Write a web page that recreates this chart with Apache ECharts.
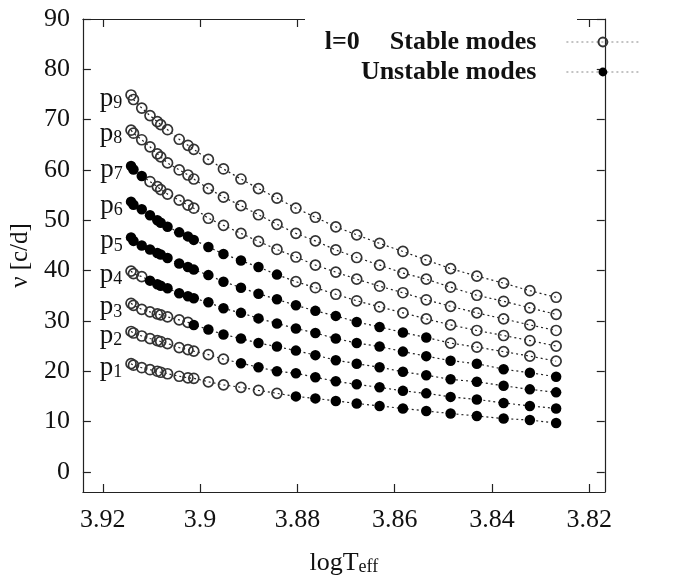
<!DOCTYPE html>
<html>
<head>
<meta charset="utf-8">
<script src="https://cdn.jsdelivr.net/npm/echarts@6/dist/echarts.min.js"></script>
<style>
html,body{margin:0;padding:0;background:#fff;}
#chart{width:677px;height:588px;}
</style>
</head>
<body>
<div id="chart"></div>
<script>
// ---- data ----
const logTeff = [3.9142, 3.9137, 3.9120, 3.9103, 3.9088, 3.9081, 3.9067, 3.9043, 3.9025, 3.9013,
                 3.8983, 3.8952, 3.8916, 3.8880, 3.8842, 3.8803, 3.8763, 3.8721, 3.8678, 3.8631,
                 3.8583, 3.8535, 3.8485, 3.8431, 3.8376, 3.8322, 3.8268];
const p1 = [21.5, 21.2, 20.7, 20.3, 20.0, 19.8, 19.5, 19.0, 18.7, 18.6, 17.9, 17.3, 16.8, 16.2, 15.6, 15.0, 14.6, 14.1, 13.6, 13.1, 12.6, 12.1, 11.6, 11.1, 10.6, 10.3, 9.7];
const p2 = [27.9, 27.6, 27.0, 26.5, 26.1, 25.9, 25.5, 24.7, 24.3, 24.0, 23.3, 22.4, 21.6, 20.8, 20.0, 19.6, 18.8, 18.0, 17.4, 16.8, 16.1, 15.6, 14.9, 14.4, 13.7, 13.1, 12.6];
const p3 = [33.5, 33.1, 32.3, 31.8, 31.4, 31.2, 30.8, 30.2, 29.7, 29.2, 28.3, 27.3, 26.5, 25.6, 24.9, 24.1, 23.2, 22.2, 21.5, 20.8, 19.9, 19.2, 18.4, 17.9, 17.1, 16.4, 15.8];
const p4 = [39.9, 39.4, 38.8, 38.0, 37.3, 37.0, 36.5, 35.5, 34.9, 34.5, 33.7, 32.5, 31.6, 30.5, 29.5, 28.5, 27.6, 26.5, 25.6, 24.9, 23.9, 23.0, 22.1, 21.5, 20.4, 19.7, 18.9];
const p5 = [46.6, 45.9, 45.0, 44.2, 43.5, 43.2, 42.5, 41.4, 40.7, 40.2, 39.1, 37.8, 36.6, 35.4, 34.3, 33.1, 32.0, 31.0, 29.8, 28.8, 27.7, 26.7, 25.6, 24.8, 23.9, 23.0, 22.0];
const p6 = [53.7, 53.1, 52.2, 51.0, 50.0, 49.5, 48.7, 47.6, 46.8, 46.1, 44.7, 43.3, 42.0, 40.7, 39.2, 37.8, 36.6, 35.3, 34.0, 32.8, 31.6, 30.4, 29.2, 28.1, 27.1, 26.1, 25.0];
const p7 = [60.8, 60.1, 58.8, 57.7, 56.7, 56.1, 55.2, 54.0, 53.0, 52.4, 50.4, 49.0, 47.4, 45.8, 44.2, 42.7, 41.1, 39.7, 38.3, 36.9, 35.6, 34.2, 32.9, 31.6, 30.4, 29.2, 28.1];
const p8 = [67.9, 67.3, 66.0, 64.6, 63.2, 62.6, 61.4, 60.0, 59.0, 58.2, 56.3, 54.6, 52.9, 51.1, 49.2, 47.4, 45.9, 44.1, 42.6, 41.1, 39.5, 38.3, 36.7, 35.1, 33.9, 32.6, 31.3];
const p9 = [74.9, 74.0, 72.3, 70.8, 69.6, 69.0, 68.0, 66.1, 64.9, 64.1, 62.1, 60.2, 58.2, 56.3, 54.4, 52.4, 50.6, 48.7, 47.1, 45.4, 43.8, 42.1, 40.4, 38.9, 37.5, 36.0, 34.7];
const modeNames = ['1', '2', '3', '4', '5', '6', '7', '8', '9'];
// index range (inclusive) of unstable models per mode; null = none
const unstableFrom = [15, 12, 9, 3, 0, 0, 0, null, null];
const unstableTo   = [26, 26, 26, 26, 21, 14, 2, null, null];
const xTicks = [3.82, 3.84, 3.86, 3.88, 3.90, 3.92];
const yTicks = [0, 10, 20, 30, 40, 50, 60, 70, 80, 90];
const seriesLabels = ['Stable modes', 'Unstable modes'];
const keyTitle = 'l=0';

// ---- build ----
const modes = [p1, p2, p3, p4, p5, p6, p7, p8, p9];
const SERIF = 'Liberation Serif';
const INK = '#111';
const AX = '#222';

const lineSeries = [];
const stableData = [];
const unstableData = [];
modes.forEach((vals, k) => {
  lineSeries.push({
    type: 'line',
    name: 'p' + modeNames[k],
    data: vals.map((v, i) => [logTeff[i], v]),
    showSymbol: false,
    lineStyle: { color: '#222', width: 1.2, type: [2, 3] },
    silent: true,
    z: 2
  });
  vals.forEach((v, i) => {
    const item = { value: [logTeff[i], v] };
    if (i === 0) {
      item.label = {
        show: true,
        position: 'left',
        distance: 3,
        offset: [0, 4],
        formatter: '{p|p}{s|' + modeNames[k] + '}',
        rich: {
          p: { fontFamily: SERIF, fontSize: 27, color: INK },
          s: { fontFamily: SERIF, fontSize: 18, color: INK, verticalAlign: 'bottom' }
        }
      };
    }
    const uf = unstableFrom[k], ut = unstableTo[k];
    if (uf !== null && i >= uf && i <= ut) unstableData.push(item);
    else stableData.push(item);
  });
});

const symbolSeries = [
  {
    type: 'line', name: seriesLabels[0], data: stableData,
    symbol: 'circle', symbolSize: 10, showSymbol: true,
    lineStyle: { opacity: 0, type: [2, 3], color: '#888' },
    itemStyle: { color: 'rgba(255,255,255,0)', borderColor: '#333', borderWidth: 1.7 },
    silent: true, z: 3
  },
  {
    type: 'line', name: seriesLabels[1], data: unstableData,
    symbol: 'circle', symbolSize: 10.5, showSymbol: true,
    lineStyle: { opacity: 0, type: [2, 3], color: '#888' },
    itemStyle: { color: '#000', borderColor: '#000', borderWidth: 0 },
    silent: true, z: 3
  }
];

const xRange = { min: 3.8168, max: 3.9241 };
const yRange = { min: -4, max: 90 };
const tickStyle = { color: AX, width: 1.2 };
const fmtX = v => String(parseFloat(v.toFixed(2)));

const option = {
  animation: false,
  backgroundColor: '#fff',
  textStyle: { fontFamily: SERIF, color: INK },
  grid: { left: 75, right: 6, top: 19, bottom: 96, containLabel: false },
  xAxis: [
    {
      type: 'value', position: 'bottom', inverse: true, min: xRange.min, max: xRange.max,
      axisLine: { show: true, onZero: false, lineStyle: tickStyle },
      axisTick: { show: true, inside: true, length: 8, customValues: xTicks, lineStyle: tickStyle },
      axisLabel: { show: true, customValues: xTicks, formatter: fmtX, margin: 15,
                   fontFamily: SERIF, fontSize: 26, color: INK },
      splitLine: { show: false },
      name: '{a|logT}{b|eff}', nameLocation: 'middle', nameGap: 58,
      nameTextStyle: { fontFamily: SERIF, rich: {
        a: { fontFamily: SERIF, fontSize: 26, color: INK },
        b: { fontFamily: SERIF, fontSize: 18, color: INK, verticalAlign: 'bottom' }
      } }
    },
    {
      type: 'value', position: 'top', inverse: true, min: xRange.min, max: xRange.max,
      axisLine: { show: true, onZero: false, lineStyle: tickStyle },
      axisTick: { show: true, inside: true, length: 8, customValues: xTicks, lineStyle: tickStyle },
      axisLabel: { show: false }, splitLine: { show: false }
    }
  ],
  yAxis: [
    {
      type: 'value', position: 'left', min: yRange.min, max: yRange.max,
      axisLine: { show: true, onZero: false, lineStyle: tickStyle },
      axisTick: { show: true, inside: true, length: 8, customValues: yTicks, lineStyle: tickStyle },
      axisLabel: { show: true, customValues: yTicks, margin: 13, fontFamily: SERIF, fontSize: 26, color: INK },
      splitLine: { show: false },
      name: 'ν [c/d]', nameLocation: 'middle', nameGap: 42,
      nameTextStyle: { fontFamily: SERIF, fontSize: 25, color: INK }
    },
    {
      type: 'value', position: 'right', min: yRange.min, max: yRange.max,
      axisLine: { show: true, onZero: false, lineStyle: tickStyle },
      axisTick: { show: true, inside: true, length: 8, customValues: yTicks, lineStyle: tickStyle },
      axisLabel: { show: false }, splitLine: { show: false }
    }
  ],
  legend: {
    data: seriesLabels,
    orient: 'vertical', align: 'right', right: 37, top: 29,
    itemWidth: 73, itemHeight: 11, itemGap: 4, padding: 0,
    selectedMode: false, z: 10,
    formatter: n => n === seriesLabels[0] ? '{a|' + keyTitle + '}{b|' + n + '}' : '{b|' + n + '}',
    textStyle: {
      fontFamily: SERIF, fontSize: 26, fontWeight: 'bold', color: INK, lineHeight: 24,
      rich: {
        a: { fontFamily: SERIF, fontSize: 26, fontWeight: 'bold', color: INK, padding: [0, 30, 0, 0], lineHeight: 24 },
        b: { fontFamily: SERIF, fontSize: 26, fontWeight: 'bold', color: INK, padding: [0, 25, 0, 0], lineHeight: 24 }
      }
    },
    lineStyle: { opacity: 1, type: [2, 3], color: '#888', width: 1.2 }
  },
  graphic: [
    { type: 'rect', z: 5, silent: true, shape: { x: 305, y: 0, width: 272, height: 90 }, style: { fill: '#fff' } }
  ],
  series: lineSeries.concat(symbolSeries)
};

const chart = echarts.init(document.getElementById('chart'), null, { renderer: 'canvas' });
chart.setOption(option);
</script>
</body>
</html>
